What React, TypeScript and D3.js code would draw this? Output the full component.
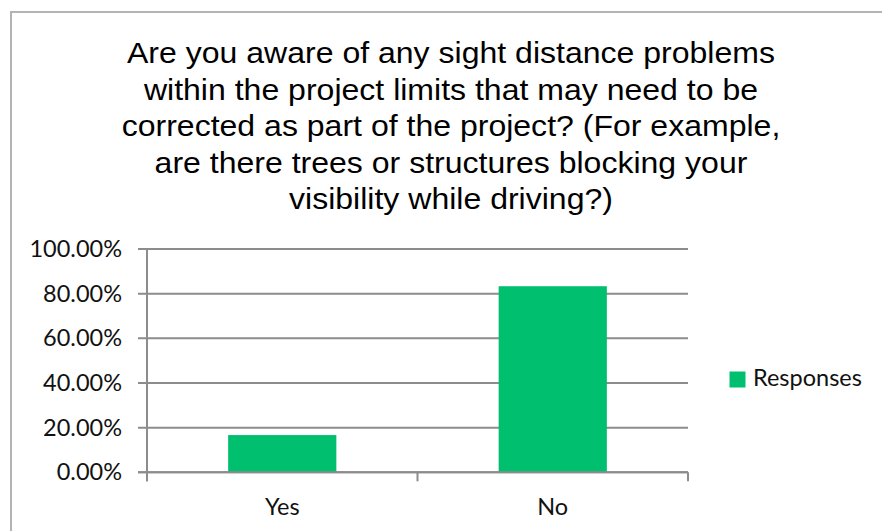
import React from 'react';
import * as d3 from 'd3';

const categories: string[] = ['Yes', 'No'];
const responses: number[] = [16.67, 83.33];
const yTicks: number[] = [0, 20, 40, 60, 80, 100];
const titleLines: string[] = [
  'Are you aware of any sight distance problems',
  'within the project limits that may need to be',
  'corrected as part of the project? (For example,',
  'are there trees or structures blocking your',
  'visibility while driving?)',
];
const seriesName = 'Responses';

const W = 882;
const H = 531;
const plotLeft = 147;
const plotRight = 688;
const plotTop = 249;
const plotBottom = 472.3;
const barColor = '#00BF6F';
const gridColor = '#8c8c8c';
const labelFont = 'Lato, "Open Sans", sans-serif';
const titleCx = 451;

export default function App() {
  const y = d3.scaleLinear().domain([0, 100]).range([plotBottom, plotTop]);
  const x = d3
    .scaleBand<string>()
    .domain(categories)
    .range([plotLeft, plotRight])
    .paddingInner(0.6)
    .paddingOuter(0.3);
  const step = x.step();
  const boundaries = d3.range(categories.length + 1).map((i) => plotLeft + i * step);
  const fmt = (v: number) => v.toFixed(2) + '%';

  return (
    <svg
      width={W}
      height={H}
      style={{ position: 'absolute', left: 0, top: 0, background: '#fff' }}
    >
      <rect x={0} y={0} width={W} height={H} fill="#fff" />
      {/* chart border */}
      <path d={`M11,${H} L11,12 L${W},12`} fill="none" stroke="#b3b3b3" strokeWidth={2} />

      {/* title */}
      <g transform={`translate(${titleCx},0) scale(1.12,1) translate(${-titleCx},0)`}>
        <text
          x={titleCx}
          textAnchor="middle"
          fontFamily='"Liberation Sans", Arial, sans-serif'
          fontSize={28.6}
          fill="#000"
        >
          {titleLines.map((l, i) => (
            <tspan key={i} x={titleCx} y={63.3 + i * 36.5}>
              {l}
            </tspan>
          ))}
        </text>
      </g>

      {/* gridlines and y ticks */}
      {yTicks.map((t) => (
        <g key={t}>
          <line
            x1={plotLeft - 9}
            x2={plotRight}
            y1={y(t)}
            y2={y(t)}
            stroke={gridColor}
            strokeWidth={2}
          />
          <text
            x={122}
            y={y(t) + 8}
            textAnchor="end"
            fontFamily={labelFont}
            fontSize={23.5}
            fill="#111"
          >
            {fmt(t)}
          </text>
        </g>
      ))}

      {/* y axis */}
      <line x1={plotLeft} x2={plotLeft} y1={plotTop} y2={plotBottom + 9} stroke={gridColor} strokeWidth={2} />

      {/* bars */}
      {categories.map((c, i) => (
        <rect
          key={c}
          x={x(c)!}
          y={y(responses[i])}
          width={x.bandwidth()}
          height={plotBottom - y(responses[i])}
          fill={barColor}
        />
      ))}

      {/* x axis */}
      <line x1={plotLeft - 9} x2={plotRight} y1={plotBottom} y2={plotBottom} stroke={gridColor} strokeWidth={2} />
      {boundaries.map((b, i) => (
        <line key={i} x1={b} x2={b} y1={plotBottom} y2={plotBottom + 9} stroke={gridColor} strokeWidth={2} />
      ))}
      {categories.map((c) => (
        <text
          key={c}
          x={x(c)! + x.bandwidth() / 2}
          y={515}
          textAnchor="middle"
          fontFamily={labelFont}
          fontSize={23.5}
          fill="#111"
        >
          {c}
        </text>
      ))}

      {/* legend */}
      <rect x={729.5} y={371.5} width={16} height={16} fill={barColor} />
      <text x={753} y={385.7} fontFamily={labelFont} fontSize={23.5} fill="#111">
        {seriesName}
      </text>
    </svg>
  );
}
